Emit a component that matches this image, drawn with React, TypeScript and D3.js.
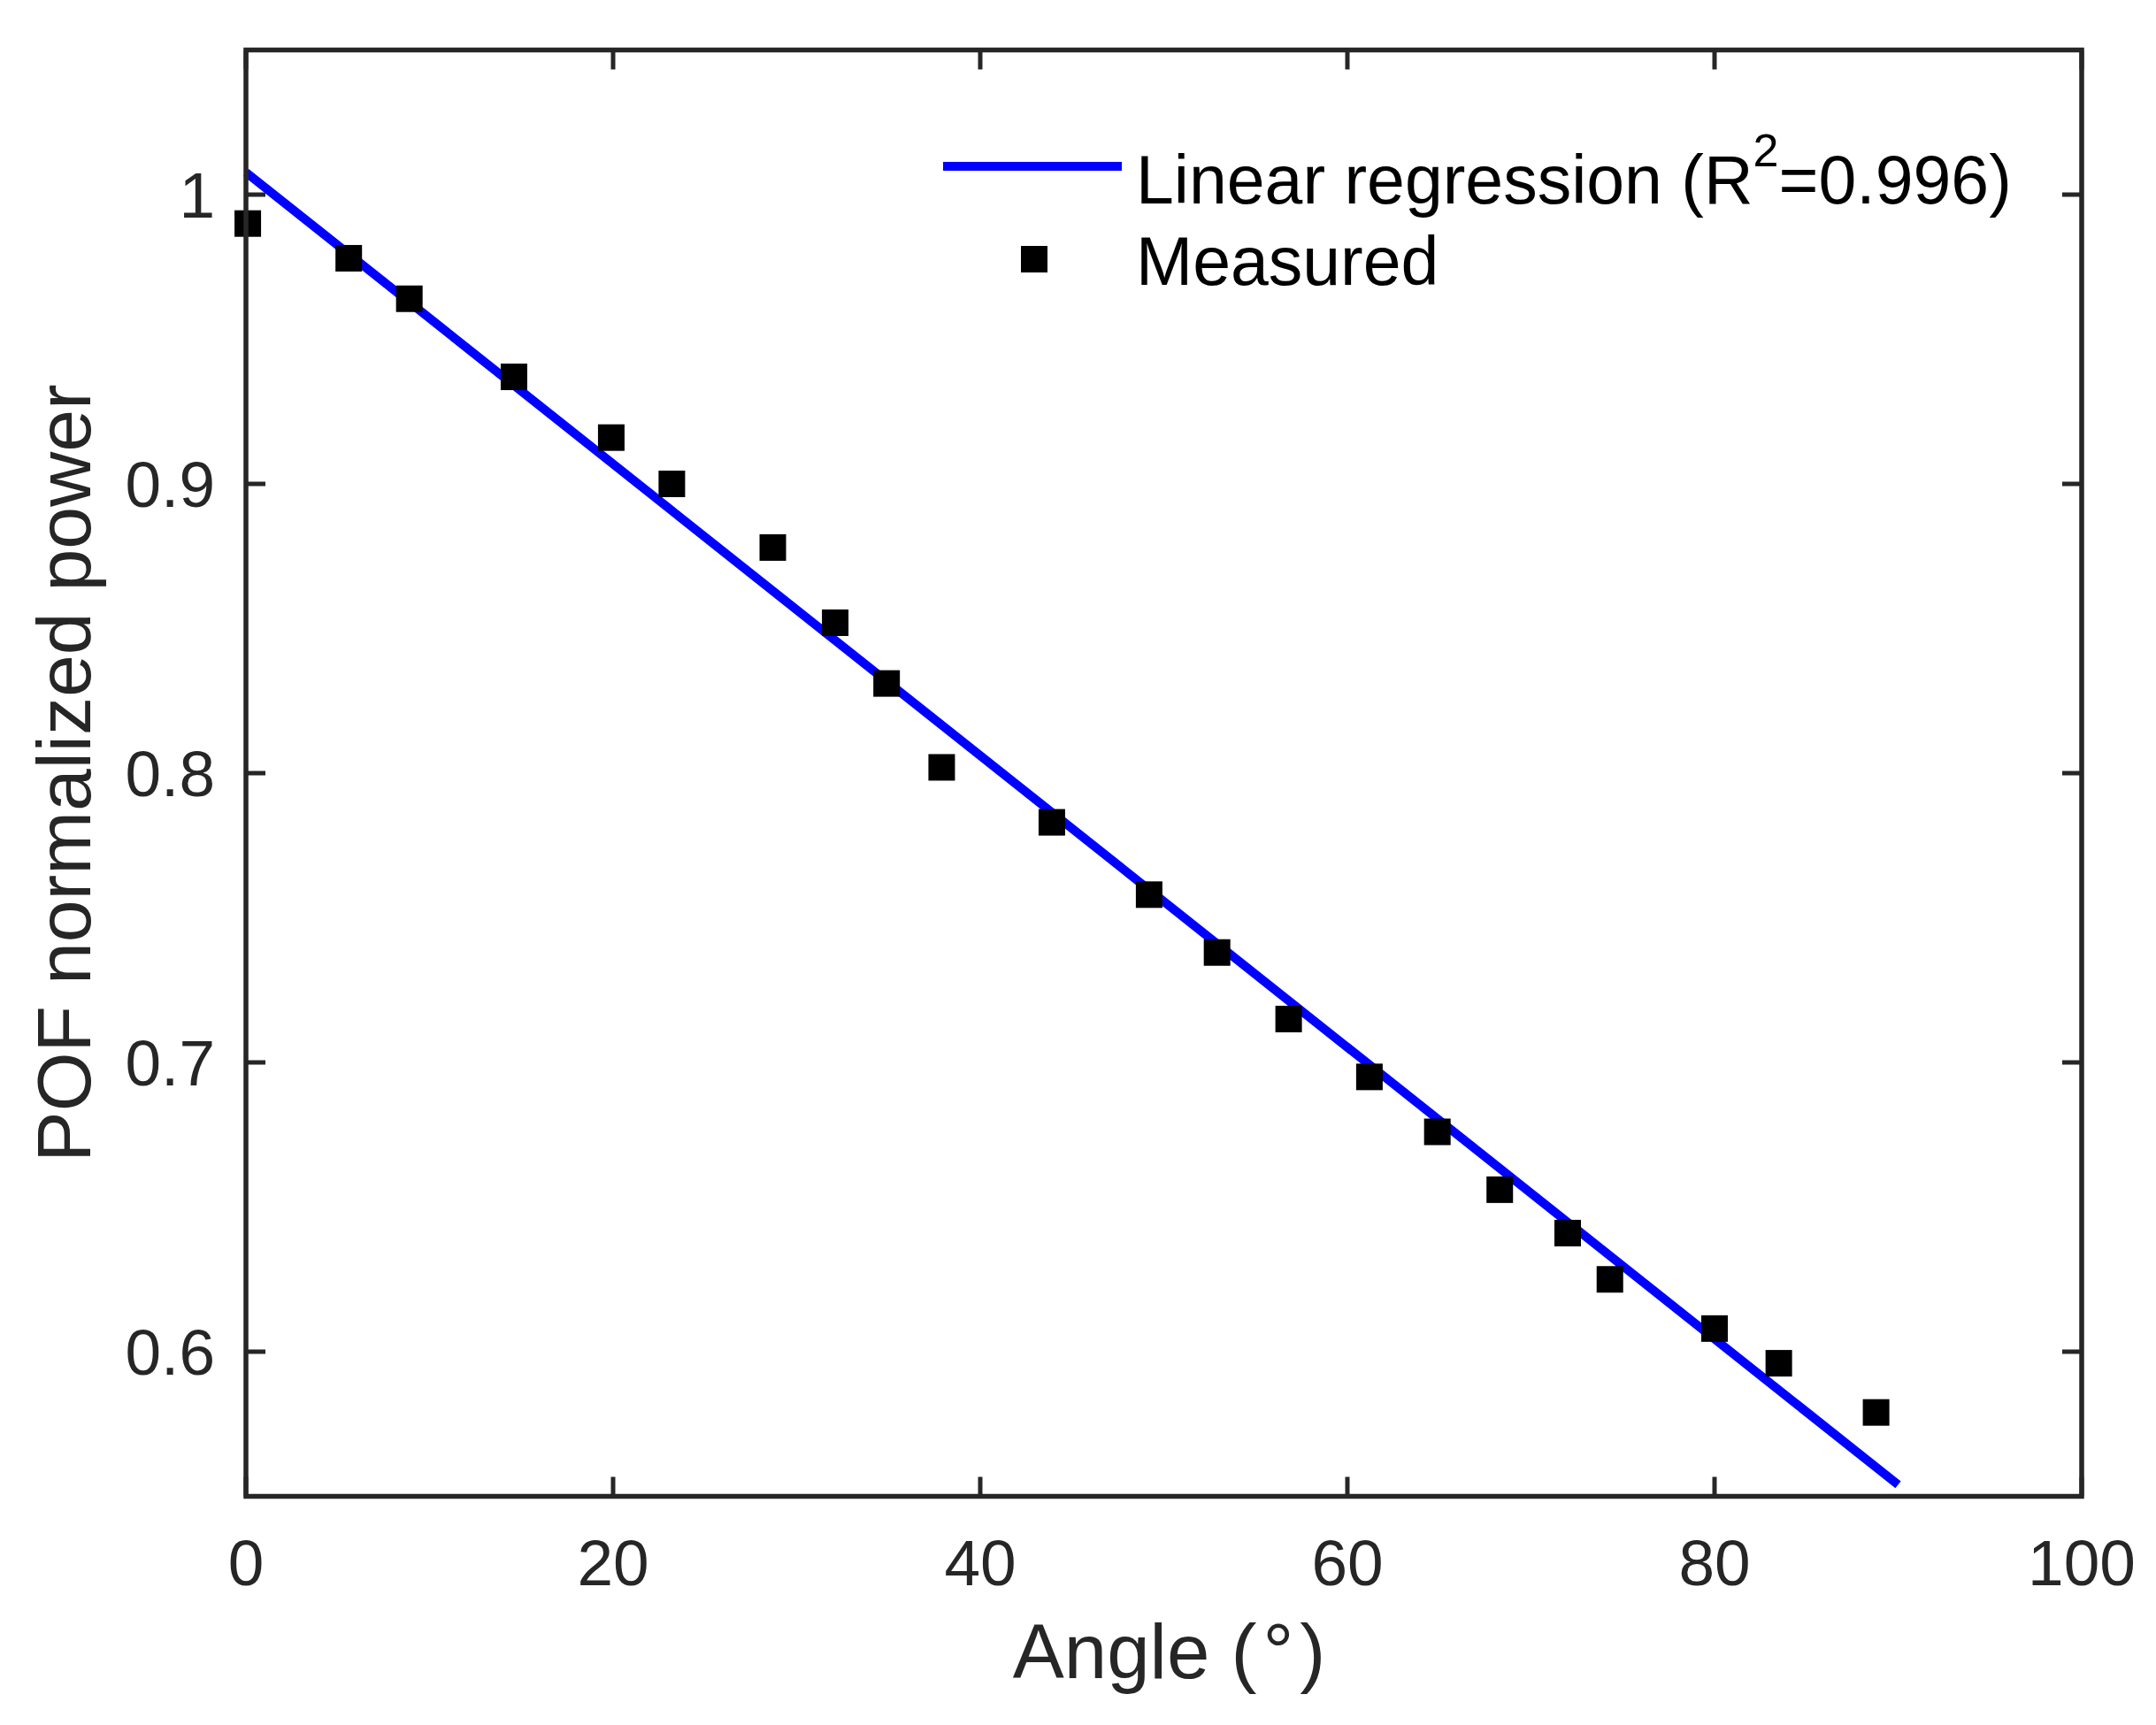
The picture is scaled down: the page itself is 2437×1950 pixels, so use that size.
import React from "react";
import * as d3 from "d3";

const angles = [0.1, 5.6, 8.9, 14.6, 19.9, 23.2, 28.7, 32.1, 34.9, 37.9, 43.9, 49.2, 52.9, 56.8, 61.2, 64.9, 68.3, 72.0, 74.3, 80.0, 83.5, 88.8];
const measured = [0.990, 0.978, 0.964, 0.937, 0.916, 0.900, 0.878, 0.852, 0.831, 0.802, 0.783, 0.758, 0.738, 0.715, 0.695, 0.676, 0.656, 0.641, 0.625, 0.608, 0.596, 0.579];
const fitX = [0, 90];
const fitY = [1.0077, 0.554];
const xTicks = [0, 20, 40, 60, 80, 100];
const yTicks = [0.6, 0.7, 0.8, 0.9, 1];
const yTickLabels = ["0.6", "0.7", "0.8", "0.9", "1"];

const W = 2437;
const H = 1950;
const left = 278, right = 2353, top = 56.5, bottom = 1691.5;
const AX = "#262626";
const FONT = "'Liberation Sans', Arial, Helvetica, sans-serif";

export default function App() {
  const x = d3.scaleLinear().domain([0, 100]).range([left, right]);
  const y = d3.scaleLinear().domain([0.55, 1.05]).range([bottom, top]);
  const line = d3.line<number>().x((d, i) => x(fitX[i])).y((d, i) => y(fitY[i]));
  const tickLen = 22;
  const ms = 30;
  return (
    <svg width={W} height={H} style={{ position: "absolute", left: 0, top: 0, background: "#fff" }}>
      <rect x={0} y={0} width={W} height={H} fill="#fff" />
      {xTicks.map((t) => (
        <g key={"xt" + t}>
          <line x1={x(t)} x2={x(t)} y1={bottom} y2={bottom - tickLen} stroke={AX} strokeWidth={5} />
          <line x1={x(t)} x2={x(t)} y1={top} y2={top + tickLen} stroke={AX} strokeWidth={5} />
          <text x={x(t)} y={1792} textAnchor="middle" fontFamily={FONT} fontSize={73} fill={AX}>{t}</text>
        </g>
      ))}
      {yTicks.map((t, i) => (
        <g key={"yt" + t}>
          <line x1={left} x2={left + tickLen} y1={y(t)} y2={y(t)} stroke={AX} strokeWidth={5} />
          <line x1={right} x2={right - tickLen} y1={y(t)} y2={y(t)} stroke={AX} strokeWidth={5} />
          <text x={243} y={y(t) + 26} textAnchor="end" fontFamily={FONT} fontSize={73} fill={AX}>{yTickLabels[i]}</text>
        </g>
      ))}
      <path d={line(fitY) || ""} fill="none" stroke="#0000ff" strokeWidth={10} />
      {angles.map((a, i) => (
        <rect key={"m" + i} x={x(a) - ms / 2} y={y(measured[i]) - ms / 2} width={ms} height={ms} fill="#000" />
      ))}
      <rect x={left} y={top} width={right - left} height={bottom - top} fill="none" stroke={AX} strokeWidth={5.5} />
      <text x={(left + right) / 2 + 6} y={1897} textAnchor="middle" fontFamily={FONT} fontSize={87} fill={AX}>
        Angle (<tspan dx={7}>°</tspan><tspan dx={7}>)</tspan>
      </text>
      <text transform={`translate(102, ${(top + bottom) / 2}) rotate(-90)`} textAnchor="middle" fontFamily={FONT} fontSize={86} fill={AX}>POF normalized power</text>
      <line x1={1066} x2={1268} y1={188} y2={188} stroke="#0000ff" strokeWidth={10} />
      <text x={1284} y={230} fontFamily={FONT} fontSize={77} fill="#000">
        Linear regression (R<tspan dy={-42} fontSize={52}>2</tspan><tspan dy={42}>=0.996)</tspan>
      </text>
      <rect x={1169 - ms / 2} y={293 - ms / 2} width={ms} height={ms} fill="#000" />
      <text x={1284} y={322} fontFamily={FONT} fontSize={77} fill="#000">Measured</text>
    </svg>
  );
}
